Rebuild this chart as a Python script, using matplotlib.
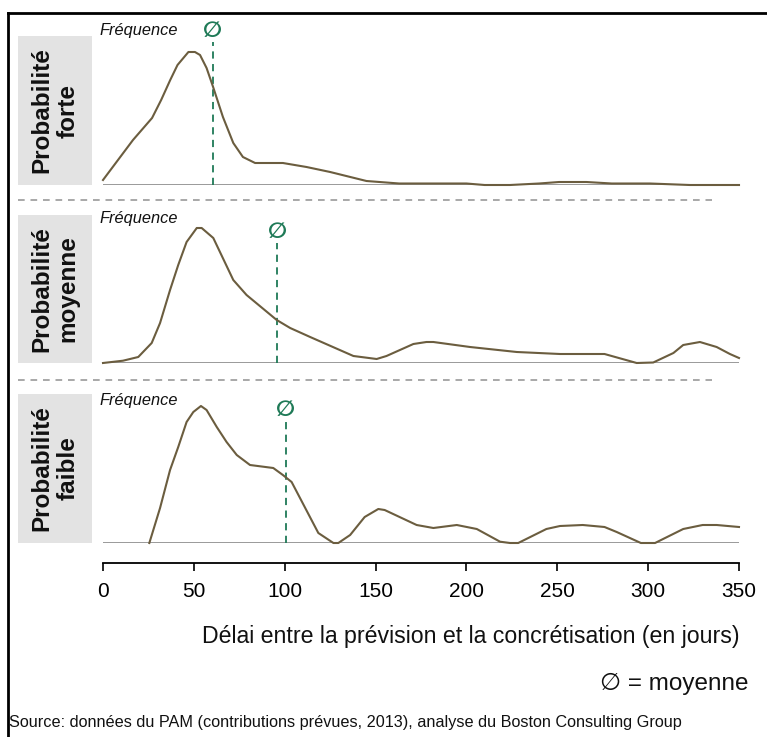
import matplotlib
matplotlib.use("Agg")
import matplotlib.pyplot as plt
from matplotlib.lines import Line2D
from matplotlib.patches import Rectangle

plt.rcParams['font.family'] = ['Liberation Sans', 'DejaVu Sans']

# ---------------- data ----------------
panel_labels = ["Probabilité\nforte", "Probabilité\nmoyenne", "Probabilité\nfaible"]
means = [60.5, 96, 100.5]

days_forte = [0, 16.5, 27, 32, 37, 41, 47, 50.6, 53.4, 57, 60.6, 66, 71.7, 77, 83.7,
              99, 112, 125, 145, 163, 200, 210, 224, 240, 251, 260, 266, 280, 301, 323, 350]
freq_forte = [5, 45, 67, 85, 105, 120, 133, 133, 130, 117, 98, 68, 42, 28, 22,
              22, 18, 13, 4, 1.5, 1.5, 0, 0, 1.5, 3, 3, 3, 1.5, 1.5, 0, 0]

days_moyenne = [0, 11, 19.4, 26.8, 31.4, 36.9, 41.4, 46, 51.6, 54.3, 60.7, 71.7, 79,
                95.6, 103, 114, 137.8, 150.6, 156, 170.8, 178, 181.8, 202, 227.7,
                251.5, 276, 293.7, 302.8, 313.9, 319.3, 328.5, 337.7, 345, 350]
freq_moyenne = [0, 2.3, 6, 20, 40, 73, 98, 121, 135, 135, 125, 83, 68,
                43, 35, 26, 7, 4, 7, 19, 21, 21, 16, 11,
                9, 9, 0, 0.5, 10, 18, 21, 16, 9, 5]

days_faible = [25.5, 31.4, 36.9, 41.4, 46, 49.7, 53.9, 57, 62.6, 68, 73.6, 80.9, 93.7,
               99, 103.8, 118.5, 126.8, 129.5, 136, 144, 151.5, 155, 172.6, 181.8,
               194.7, 205.7, 218.5, 224, 228.5, 244, 251.5, 264, 276, 282.7, 296,
               303.8, 319.3, 330, 337.7, 350]
freq_faible = [0, 35, 73, 96, 121, 131, 137, 133, 116, 101, 88, 78, 75,
               68, 61, 10, 0, 0, 8, 26, 34, 33, 18, 15,
               18, 14, 1.3, 0, 0, 14, 17, 18, 16, 11, 0,
               0, 14, 18, 18, 16]

x_ticks = [0, 50, 100, 150, 200, 250, 300, 350]

series = [(days_forte, freq_forte), (days_moyenne, freq_moyenne), (days_faible, freq_faible)]

# ---------------- layout ----------------
W, H = 767, 737
fig = plt.figure(figsize=(W / 100, H / 100), dpi=100)

def fx(px):
    return px / W

def fy(py):
    return 1 - py / H

curve_color = "#6b5d3f"
mean_color = "#1f7a57"
base_color = "#9a9a9a"

baselines = [185, 363, 543]
box_tops = [36, 215, 394]
mean_tops = [42, 243, 421]
label_tops = [30, 218, 401]
PH = 160.0  # panel height in px

for i, (d, f) in enumerate(series):
    b = baselines[i]
    ax = fig.add_axes([fx(103), fy(b), fx(739) - fx(103), PH / H])
    ax.set_xlim(0, 350)
    ax.set_ylim(0, PH)
    ax.axis("off")
    ax.axhline(0, color=base_color, lw=1.4, zorder=1)
    ax.plot(d, f, color=curve_color, lw=1.5, zorder=3, clip_on=False)
    mtop = b - mean_tops[i]
    ax.plot([means[i], means[i]], [0, mtop], color=mean_color, lw=1.3,
            ls=(0, (4, 3)), zorder=2)
    ax.text(means[i], mtop + 1, "∅", color=mean_color, fontsize=16, fontweight="bold",
            ha="center", va="bottom", family=['DejaVu Sans'])
    # Fréquence label
    fig.text(fx(100), fy(label_tops[i]), "Fréquence", fontsize=11.8, style="italic",
             ha="left", va="center", color="#111111")
    # gray label box
    fig.patches.append(Rectangle((fx(18), fy(b)), fx(92) - fx(18), (b - box_tops[i]) / H,
                                 transform=fig.transFigure, facecolor="#e3e3e3",
                                 edgecolor="none", zorder=0))
    fig.text(fx(55), fy((b + box_tops[i]) / 2), panel_labels[i], rotation=90,
             fontsize=17.5, fontweight="bold", ha="center", va="center",
             multialignment="center", linespacing=1.15, color="#111111")

# dashed separators
for y in [200, 380]:
    fig.add_artist(Line2D([fx(18), fx(712)], [fy(y), fy(y)], transform=fig.transFigure,
                          color="#999999", lw=1.2, ls=(0, (4, 3.5))))

# bottom axis
axb = fig.add_axes([fx(103), fy(563), fx(739) - fx(103), 0.001])
axb.set_xlim(0, 350)
axb.set_xticks(x_ticks)
axb.set_xticklabels([str(t) for t in x_ticks], fontsize=15)
axb.set_yticks([])
for s in ["top", "left", "right"]:
    axb.spines[s].set_visible(False)
axb.spines["bottom"].set_linewidth(1.3)
axb.tick_params(axis="x", direction="out", length=6, width=1.2, pad=8)
axb.patch.set_visible(False)

fig.text(fx(739), fy(637), "Délai entre la prévision et la concrétisation (en jours)",
         fontsize=16.7, ha="right", va="center", color="#111111")
fig.text(fx(749), fy(684), "∅ = moyenne", fontsize=17.5, ha="right", va="center",
         color="#111111")
fig.text(fx(9), fy(722), "Source: données du PAM (contributions prévues, 2013), analyse du Boston Consulting Group",
         fontsize=11.7, ha="left", va="center", color="#111111")

# outer border (top and left)
fig.add_artist(Line2D([fx(8), fx(767)], [fy(13), fy(13)], transform=fig.transFigure,
                      color="black", lw=2))
fig.add_artist(Line2D([fx(8), fx(8)], [fy(13), fy(737)], transform=fig.transFigure,
                      color="black", lw=2))

fig.savefig("out.png", dpi=100)
